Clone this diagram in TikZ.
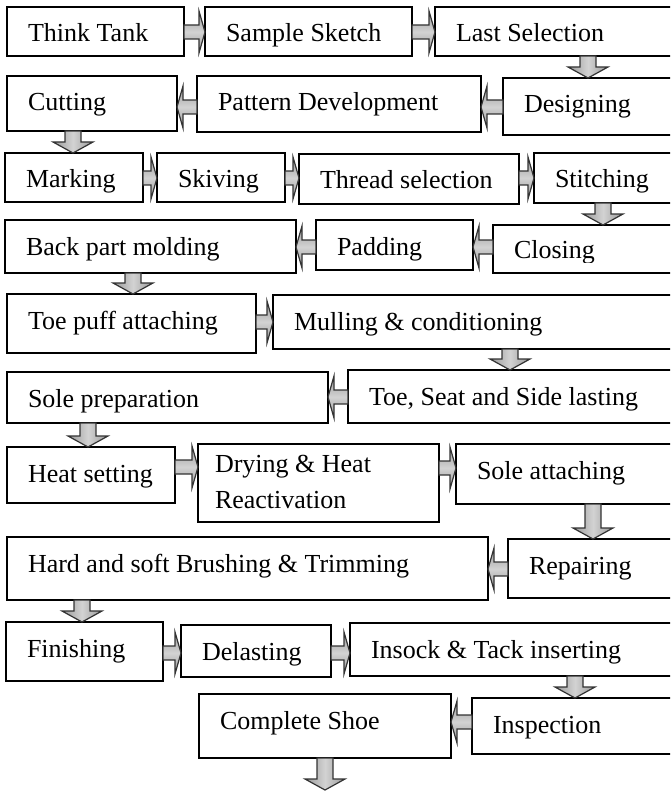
\documentclass[tikz,border=0pt]{standalone}
\usepackage{fontspec}
\setmainfont{Liberation Serif}
\usetikzlibrary{calc}
\tikzset{
 box/.style={draw=black, line width=1pt, inner sep=0pt, outer sep=0pt, fill=white},
 lbl/.style={anchor=base west, inner sep=0pt, outer sep=0pt, font=\fontsize{13}{18}\selectfont},
 harrowsty/.style={draw=gray!40!black, line width=0.6pt, top color=gray!80, bottom color=gray!80, middle color=gray!35},
 varrowsty/.style={draw=gray!40!black, line width=0.6pt, left color=gray!80, right color=gray!80, middle color=gray!35},
}
\newcommand\bx[6]{%
 \node[box, minimum width={(#4-#2)*0.5pt}, minimum height={(#5-#3)*0.5pt}] (#1) at ({(#2+#4)/2},{(#3+#5)/2}) {};
 \node[lbl] (#1t) at ({#2+21},{#3+35}) {#6};}
\newcommand\rarr[3]{%
 \path[harrowsty] let \p1=(#1.east |- 0,#3), \p2=(#2.west |- 0,#3) in
  (\x1,\y1+3.5pt) -- (\x2-3pt,\y1+3.5pt) -- (\x2-3pt,\y1+10.5pt) -- (\x2,\y1) -- (\x2-3pt,\y1-10.5pt) -- (\x2-3pt,\y1-3.5pt) -- (\x1,\y1-3.5pt) -- cycle;}
\newcommand\larr[3]{%
 \path[harrowsty] let \p1=(#1.west |- 0,#3), \p2=(#2.east |- 0,#3) in
  (\x1,\y1+3.5pt) -- (\x2+3pt,\y1+3.5pt) -- (\x2+3pt,\y1+10.5pt) -- (\x2,\y1) -- (\x2+3pt,\y1-10.5pt) -- (\x2+3pt,\y1-3.5pt) -- (\x1,\y1-3.5pt) -- cycle;}
\newcommand\darr[3]{%
 \path[varrowsty] let \p1=(#1.south -| #3,0), \p2=(#2.north -| #3,0) in
  (\x1-4pt,\y1) -- (\x1-4pt,\y2+5.5pt) -- (\x1-10pt,\y2+5.5pt) -- (\x1,\y2) -- (\x1+10pt,\y2+5.5pt) -- (\x1+4pt,\y2+5.5pt) -- (\x1+4pt,\y1) -- cycle;}
\begin{document}
\begin{tikzpicture}[x=0.5pt,y=-0.5pt]
\useasboundingbox (0,0) rectangle (670,791);
\clip (0,0) rectangle (670,791);
\fill[white] (0,0) rectangle (670,791);
% row 1
\bx{tt}{7}{7}{184}{56}{Think Tank}
\bx{ss}{205}{7}{412}{56}{Sample Sketch}
\bx{ls}{435}{7}{700}{56}{Last Selection}
% row 2
\bx{cu}{7}{76}{177}{131}{Cutting}
\bx{pd}{197}{76}{481}{132}{Pattern Development}
\bx{de}{503}{78}{700}{135}{Designing}
% row 3
\bx{ma}{5}{153}{143}{202}{Marking}
\bx{sk}{157}{153}{285}{202}{Skiving}
\bx{th}{299}{154}{519}{204}{Thread selection}
\bx{st}{534}{153}{700}{203}{Stitching}
% row 4
\bx{bp}{5}{220}{296}{273}{Back part molding}
\bx{pa}{316}{220}{473}{270}{Padding}
\node[box, minimum width={207*0.5pt}, minimum height={48*0.5pt}] (cl) at ({(493+700)/2},{(225+273)/2}) {};
\begin{scope}
\clip (490,222) rectangle (700,262);
\node[lbl] (clt) at (514,258) {Closing};
\end{scope}
% row 5
\bx{tp}{7}{294}{256}{353}{Toe puff attaching}
\bx{mu}{273}{295}{700}{349}{Mulling \& conditioning}
% row 6
\bx{sp}{7}{372}{328}{423}{Sole preparation}
\bx{ts}{348}{370}{700}{423}{Toe, Seat and Side lasting}
% row 7
\bx{hs}{7}{447}{175}{503}{Heat setting}
\node[box, minimum width={241*0.5pt}, minimum height={78*0.5pt}] (dr) at ({(198+439)/2},{(444+522)/2}) {};
\node[lbl] (drt) at (215,472) {Drying \& Heat};
\node[lbl] (drt2) at (215,508) {Reactivation};
\bx{sa}{456}{444}{700}{504}{Sole attaching}
% row 8
\bx{hb}{7}{537}{488}{600}{Hard and soft Brushing \& Trimming}
\bx{re}{508}{539}{700}{598}{Repairing}
% row 9
\bx{fi}{6}{622}{163}{681}{Finishing}
\bx{dl}{181}{625}{331}{677}{Delasting}
\bx{in}{350}{623}{700}{676}{Insock \& Tack inserting}
% row 10
\bx{cs}{199}{694}{451}{758}{Complete Shoe}
\bx{ip}{472}{698}{700}{754}{Inspection}
\coordinate (endpt) at (325,790);
% arrows
\rarr{tt}{ss}{32}
\rarr{ss}{ls}{32}
\darr{ls}{de}{588}
\larr{de}{pd}{107}
\larr{pd}{cu}{107}
\darr{cu}{ma}{73}
\rarr{ma}{sk}{178}
\rarr{sk}{th}{178}
\rarr{th}{st}{178}
\darr{st}{cl}{603}
\larr{cl}{pa}{247}
\larr{pa}{bp}{247}
\darr{bp}{tp}{133}
\rarr{tp}{mu}{322}
\darr{mu}{ts}{510}
\larr{ts}{sp}{397}
\darr{sp}{hs}{88}
\rarr{hs}{dr}{467}
\rarr{dr}{sa}{468}
\darr{sa}{re}{593}
\larr{re}{hb}{569}
\darr{hb}{fi}{82}
\rarr{fi}{dl}{653}
\rarr{dl}{in}{653}
\darr{in}{ip}{575}
\larr{ip}{cs}{722}
\darr{cs}{endpt}{325}
\end{tikzpicture}
\end{document}
